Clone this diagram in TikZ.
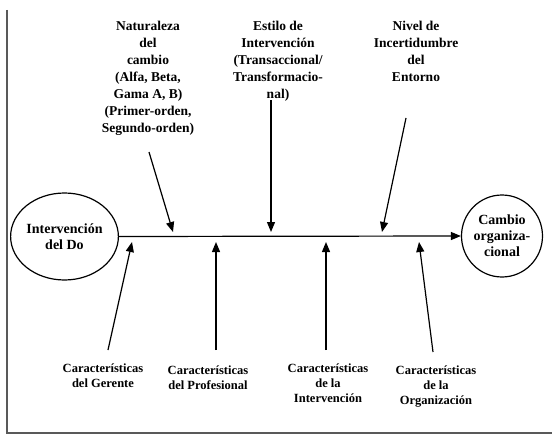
\documentclass[tikz,border=0pt]{standalone}
\usepackage{fontspec}
\setmainfont{Liberation Serif}
\usetikzlibrary{arrows.meta,shapes.geometric}
\begin{document}
\begin{tikzpicture}[x=1pt,y=-1pt,
  line width=1.2pt,
  arr/.style={-{Triangle[length=10pt,width=8pt]}},
  toplbl/.style={anchor=north,align=center,inner sep=0pt,font=\bfseries\fontsize{13.5}{17}\selectfont},
  botlbl/.style={anchor=north,align=center,inner sep=0pt,font=\bfseries\fontsize{12.5}{15}\selectfont},
  oval/.style={draw,ellipse,inner sep=0pt,align=center,font=\bfseries\fontsize{14}{16}\selectfont}]
\useasboundingbox (0,0) rectangle (552,436);
\draw[line width=1.6pt,black!65] (7,10) -- (7,433) -- (552,433);
% end nodes
\node[oval,minimum width=79pt,minimum height=87pt] (A) at (64.5,236.5) {Intervención\\del Do};
\node[oval,minimum width=81pt,minimum height=82pt] (B) at (502,236) {Cambio\\organiza-\\cional};
\draw[arr] (A.east) -- (B.west);
% top labels
\node[toplbl] (t1) at (148,21) {Naturaleza\\del\\cambio\\(Alfa, Beta,\\Gama A, B)\\(Primer-orden,\\Segundo-orden)};
\node[toplbl] (t2) at (278,21) {Estilo de\\Intervención\\(Transaccional/\\Transformacio-\\nal)};
\node[toplbl] (t3) at (416,21) {Nivel de\\Incertidumbre\\del\\Entorno};
% bottom labels
\node[botlbl] (b1) at (103,363) {Características\\del Gerente};
\node[botlbl] (b2) at (208,365) {Características\\del Profesional};
\node[botlbl] (b3) at (328,363) {Características\\de la\\Intervención};
\node[botlbl] (b4) at (436,365) {Características\\de la\\Organización};
% arrow start points
\coordinate (s1) at (149,152);
\coordinate (s2) at (271,100);
\coordinate (s3) at (406,118);
\coordinate (u1) at (108,350);
\coordinate (u2) at (216,350);
\coordinate (u3) at (326,350);
\coordinate (u4) at (433,352);
% tips on the main line
\coordinate (e1) at (173,232);
\coordinate (e2) at (271,232);
\coordinate (e3) at (382,232);
\coordinate (f1) at (132,242);
\coordinate (f2) at (216,242);
\coordinate (f3) at (326,242);
\coordinate (f4) at (419,242);
\foreach \s/\e in {s1/e1,s2/e2,s3/e3,u1/f1,u2/f2,u3/f3,u4/f4}
  \draw[arr] (\s) -- (\e);
\end{tikzpicture}
\end{document}
